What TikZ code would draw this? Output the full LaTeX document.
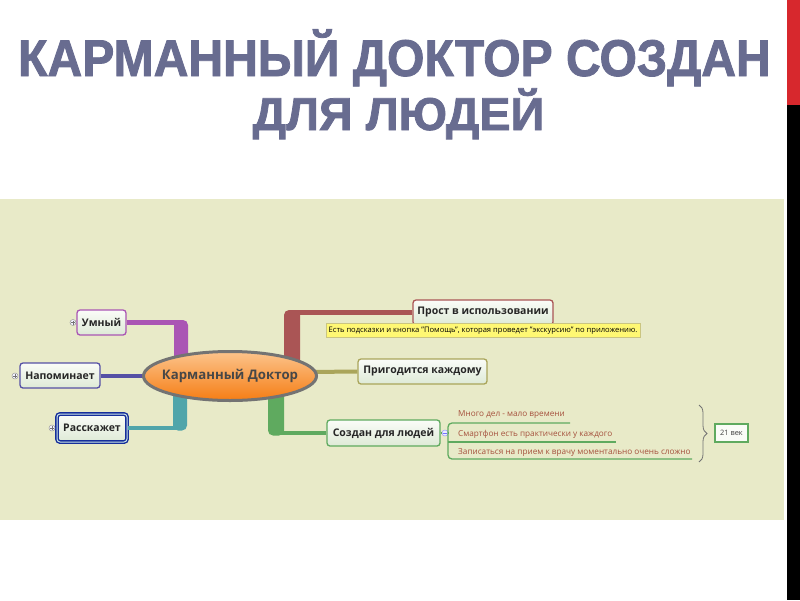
\documentclass[tikz,border=0pt]{standalone}
\usepackage{fontspec}
\setmainfont{Open Sans}
\newfontfamily\titlefontA[FakeStretch=0.93,FakeBold=1.6]{Liberation Sans Bold}
\newfontfamily\titlefontB[FakeStretch=1.02,FakeBold=1.6]{Liberation Sans Bold}
\usetikzlibrary{shapes.geometric,decorations.pathreplacing,calc}
\definecolor{panel}{RGB}{232,234,200}
\definecolor{redbar}{RGB}{215,40,45}
\definecolor{titlecol}{RGB}{104,108,144}
\definecolor{cP}{RGB}{170,85,180}
\definecolor{cB}{RGB}{85,80,165}
\definecolor{cT}{RGB}{80,165,170}
\definecolor{cR}{RGB}{170,85,85}
\definecolor{cO}{RGB}{170,165,90}
\definecolor{cG}{RGB}{95,170,95}
\definecolor{subtxt}{RGB}{165,80,60}
\definecolor{boxtop}{RGB}{250,252,248}
\definecolor{boxbot}{RGB}{222,234,214}
\definecolor{orTop}{RGB}{252,196,140}
\definecolor{orBot}{RGB}{245,125,20}
\tikzset{
  topic/.style={draw, line width=1.3pt, rounded corners=3pt, top color=boxtop, bottom color=boxbot,
    font=\fontsize{10.5}{12}\selectfont\bfseries, text=black!85, inner sep=0pt, minimum height=25pt},
  titletext/.style={text=titlecol, inner sep=0pt, anchor=base},
  subitem/.style={font=\fontsize{8.2}{10}\selectfont, text=subtxt, inner sep=0pt, anchor=base west},
  knob/.style={circle, draw=black!40, fill=blue!5, line width=0.5pt, inner sep=0pt, minimum size=6pt},
  hline/.style={line width=4.5pt},
}
\begin{document}
\begin{tikzpicture}[x=1pt,y=-1pt]
\useasboundingbox (0,0) rectangle (800,600);
\fill[white] (0,0) rectangle (800,600);
\fill[redbar] (787,0) rectangle (800,105);
\fill[black] (787,105) rectangle (800,600);
\fill[panel] (0,199) rectangle (784,520);

% title
\node[titletext, font=\titlefontA\fontsize{51.7}{52}\selectfont] (t1) at (394.5,76) {КАРМАННЫЙ ДОКТОР СОЗДАН};
\node[titletext, font=\titlefontB\fontsize{46}{46}\selectfont] (t2) at (398.5,130) {ДЛЯ ЛЮДЕЙ};

% nodes
\node[topic, draw=cP, minimum width=49pt] (u) at (101.5,322.5) {Умный};
\node[topic, draw=cB, minimum width=80pt] (n) at (60,375.5) {Напоминает};
\node[topic, draw=cT!40!blue!70!black, double=cT!30!white, double distance=1pt, line width=1.4pt, minimum width=70pt, minimum height=28pt] (r) at (92,428) {Расскажет};
\node[topic, draw=cR, minimum width=140pt] (p) at (483,312.5) {Прост в использовании};
\node[topic, draw=cO, minimum width=129pt] (g) at (422.5,371.5) {Пригодится каждому};
\node[topic, draw=cG, minimum width=113pt, minimum height=26pt] (s) at (383.5,433) {Создан для людей};
\node[draw=yellow!60!black!60, fill=yellow!55, line width=0.5pt, inner sep=0pt, minimum width=314pt, minimum height=14pt, font=\fontsize{7.6}{9}\selectfont] (note) at (483,330.5) {Есть подсказки и кнопка "Помощь", которая проведет "экскурсию" по приложению.};

% branches
\coordinate (bu) at (181,0);
\coordinate (bt) at (180,0);
\coordinate (bp) at (292,0);
\coordinate (bg) at (276,0);
\draw[cP, hline] (u.east) -- (u.east -| bu);
\fill[cP, rounded corners=5pt] ($(u.east -| bu)+(-7,-2.5)$) rectangle (188,368);
\draw[cB, line width=4pt] (n.east) -- (150,375.5);
\draw[cT, hline] (r.east) -- (r.east -| bt);
\fill[cT, rounded corners=5pt] ($(r.east -| bt)+(-7,2.5)$) rectangle (187,390);
\draw[cR, hline] (p.west) -- (p.west -| bp);
\fill[cR, rounded corners=5pt] ($(p.west -| bp)+(-8,-2.5)$) rectangle (300,365);
\draw[cO, line width=4pt] (310,372) -- (g.west);
\draw[cG, hline] (s.west) -- (s.west -| bg);
\fill[cG, rounded corners=5pt] ($(s.west -| bg)+(-8,2.5)$) rectangle (284,385);

% central node
\node[ellipse, draw=black!55, line width=3pt, top color=orTop, bottom color=orBot,
  minimum width=173pt, minimum height=49pt, inner sep=0pt, font=\fontsize{13.2}{15}\selectfont\bfseries, text=black!72] (c) at (230,376) {\makebox[0pt]{Карманный Доктор}};

% knobs
\node[knob] (ku) at (73,322.5) {};
\node[knob] (kn) at (15,376) {};
\node[knob] (kr) at (52,428) {};
\node[knob, draw=blue!40, fill=blue!8] (ks) at (445,433) {};
\foreach \k in {ku,kn,kr} {\draw[black!55, line width=0.5pt] ($(\k)+(-2,0)$) -- ($(\k)+(2,0)$) ($(\k)+(0,-2)$) -- ($(\k)+(0,2)$);}
\draw[blue!55, line width=0.5pt] ($(ks)+(-2,0)$) -- ($(ks)+(2,0)$);

% sub items
\node[subitem] (s1) at (458,416) {Много дел - мало времени};
\node[subitem] (s2) at (458,436) {Смартфон есть практически у каждого};
\node[subitem] (s3) at (458,454) {Записаться на прием к врачу моментально очень сложно};
\coordinate (j) at (448,433);
\draw[cG, line width=1.3pt] (s.east) -- (ks.west);
\draw[cG, line width=1.3pt] (ks.east) -- (j);
\draw[cG, line width=1.3pt, rounded corners=4pt] (570,423) -- (448,423) -- (448,459) -- (692,459);
\draw[cG, line width=1.3pt] (448,442) -- (616,442);

% brace and summary
\draw[black!55, line width=0.8pt, decorate, decoration={brace, amplitude=8pt}] (699,405) -- (699,462);
\node[draw=cG, line width=1.3pt, fill=boxtop, minimum width=33pt, minimum height=18pt, inner sep=0pt, font=\fontsize{7.4}{9}\selectfont, text=black!75] (v) at (731.5,433) {21 век};
\end{tikzpicture}
\end{document}
